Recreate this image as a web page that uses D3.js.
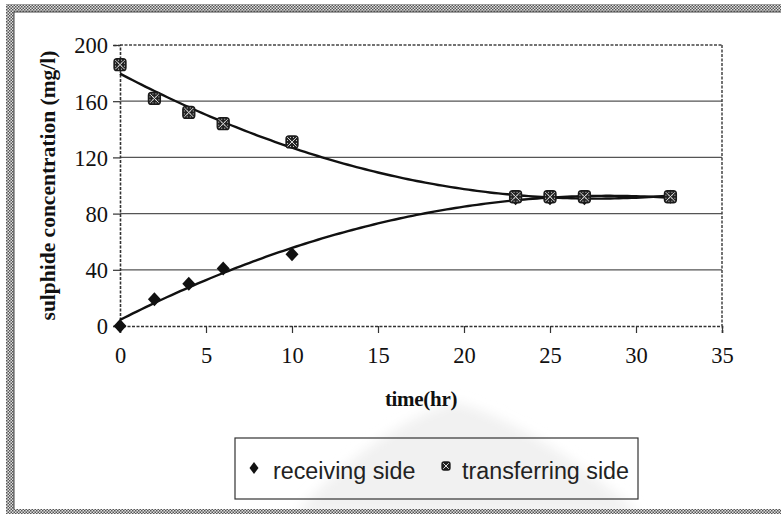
<!DOCTYPE html>
<html>
<head>
<meta charset="utf-8">
<script src="https://cdn.jsdelivr.net/npm/d3@7"></script>
<style>
  html, body { margin: 0; padding: 0; background: #fff; }
  svg { display: block; }
</style>
</head>
<body>
<svg id="chart" width="781" height="514"></svg>
<script>
// Sulphide concentration on both sides of the membrane over time
const timeHr = [0, 2, 4, 6, 10, 23, 25, 27, 32];
const receivingSide = [0, 19, 30, 41, 51, 91, 91, 91, 92];
const transferringSide = [186, 162, 152, 144, 131, 92, 92, 92, 92];
const xTicks = [0, 5, 10, 15, 20, 25, 30, 35];
const yTicks = [0, 40, 80, 120, 160, 200];
const seriesNames = ["receiving side", "transferring side"];

const svg = d3.select("#chart");

const x = d3.scaleLinear().domain([0, 35]).range([120, 722]);
const y = d3.scaleLinear().domain([0, 200]).range([326, 45]);

const defs = svg.append("defs");

// checkered frame texture
const pat = defs.append("pattern").attr("id", "checker")
  .attr("width", 3).attr("height", 3).attr("patternUnits", "userSpaceOnUse");
pat.append("rect").attr("width", 3).attr("height", 3).attr("fill", "#e0e0e0");
pat.append("rect").attr("width", 1.5).attr("height", 1.5).attr("fill", "#555");
pat.append("rect").attr("x", 1.5).attr("y", 1.5).attr("width", 1.5).attr("height", 1.5).attr("fill", "#555");

// dark speckled fill for the transferring-side marker
const mp = defs.append("pattern").attr("id", "speckle")
  .attr("width", 3).attr("height", 3).attr("patternUnits", "userSpaceOnUse");
mp.append("rect").attr("width", 3).attr("height", 3).attr("fill", "#222");
mp.append("rect").attr("x", 1).attr("y", 1).attr("width", 1).attr("height", 1).attr("fill", "#ccc");

const blur = defs.append("filter").attr("id", "soft").attr("x", "-20%").attr("y", "-20%").attr("width", "140%").attr("height", "140%");
blur.append("feGaussianBlur").attr("stdDeviation", 6);

// faint emblem in the lower background
svg.append("path")
  .attr("d", "M295,514 C335,470 395,420 455,402 C520,420 590,470 640,514 Z")
  .attr("fill", "#f1f1f1")
  .attr("filter", "url(#soft)");

// outer frame bands (left, top, bottom)
svg.append("rect").attr("x", 6).attr("y", 4).attr("width", 8).attr("height", 510).attr("fill", "url(#checker)");
svg.append("rect").attr("x", 6).attr("y", 4).attr("width", 775).attr("height", 8).attr("fill", "url(#checker)");
svg.append("rect").attr("x", 6).attr("y", 509).attr("width", 775).attr("height", 5).attr("fill", "url(#checker)");
svg.append("line").attr("x1", 14).attr("x2", 14).attr("y1", 12).attr("y2", 509).attr("stroke", "#444").attr("stroke-width", 1);
svg.append("line").attr("x1", 14).attr("x2", 781).attr("y1", 12).attr("y2", 12).attr("stroke", "#444").attr("stroke-width", 1);

// horizontal gridlines
const g = svg.append("g");
g.selectAll("line.grid").data(yTicks.filter(v => v > 0 && v < 200)).join("line")
  .attr("class", "grid")
  .attr("x1", x(0)).attr("x2", x(35))
  .attr("y1", d => y(d)).attr("y2", d => y(d))
  .attr("stroke", "#555").attr("stroke-width", 1.2);

// plot area outline (top and right) dashed
g.append("line").attr("x1", x(0)).attr("x2", x(35)).attr("y1", y(200)).attr("y2", y(200))
  .attr("stroke", "#444").attr("stroke-width", 1.5).attr("stroke-dasharray", "3,1.5");
g.append("line").attr("x1", x(35)).attr("x2", x(35)).attr("y1", y(200)).attr("y2", y(0))
  .attr("stroke", "#444").attr("stroke-width", 1.5).attr("stroke-dasharray", "3,1.5");

// axes
const xAxis = d3.axisBottom(x).tickValues(xTicks).tickSize(7).tickPadding(11).tickFormat(d3.format("d"));
const yAxis = d3.axisLeft(y).tickValues(yTicks).tickSize(7).tickPadding(5).tickFormat(d3.format("d"));

const gx = svg.append("g").attr("transform", `translate(0,${y(0)})`).call(xAxis);
const gy = svg.append("g").attr("transform", `translate(${x(0)},0)`).call(yAxis);
[gx, gy].forEach(ax => {
  ax.select(".domain").attr("stroke", "#333").attr("stroke-width", 1.6).attr("stroke-dasharray", "3,1.5");
  ax.selectAll(".tick line").attr("stroke", "#333").attr("stroke-width", 1.2);
  ax.selectAll(".tick text")
    .attr("font-family", "'Liberation Serif', 'Times New Roman', serif")
    .attr("font-size", 22.5).attr("fill", "#111");
});
gx.selectAll(".tick text").attr("dy", "0.85em");
gy.selectAll(".tick text").attr("dy", "0.35em");

// axis titles
svg.append("text")
  .attr("x", (x(0) + x(35)) / 2).attr("y", 406)
  .attr("text-anchor", "middle")
  .attr("font-family", "'Liberation Serif', 'Times New Roman', serif")
  .attr("font-weight", "bold").attr("font-size", 21).attr("fill", "#111")
  .attr("letter-spacing", "-0.3")
  .text("time(hr)");
svg.append("text")
  .attr("transform", `translate(55,${(y(0) + y(200)) / 2}) rotate(-90)`)
  .attr("text-anchor", "middle")
  .attr("font-family", "'Liberation Serif', 'Times New Roman', serif")
  .attr("font-weight", "bold").attr("font-size", 21.5).attr("fill", "#111")
  .text("sulphide concentration (mg/l)");

// least-squares polynomial trendline
function polyFit(xs, ys, deg) {
  const n = deg + 1;
  const A = Array.from({length: n}, () => new Array(n + 1).fill(0));
  for (let r = 0; r < n; r++) {
    for (let c = 0; c < n; c++) A[r][c] = d3.sum(xs, v => Math.pow(v, r + c));
    A[r][n] = d3.sum(xs, (v, i) => Math.pow(v, r) * ys[i]);
  }
  for (let i = 0; i < n; i++) {
    let p = i;
    for (let k = i + 1; k < n; k++) if (Math.abs(A[k][i]) > Math.abs(A[p][i])) p = k;
    [A[i], A[p]] = [A[p], A[i]];
    for (let k = 0; k < n; k++) {
      if (k === i) continue;
      const f = A[k][i] / A[i][i];
      for (let c = i; c <= n; c++) A[k][c] -= f * A[i][c];
    }
  }
  const coef = A.map((row, i) => row[n] / row[i]);
  return t => coef.reduce((s, c, i) => s + c * Math.pow(t, i), 0);
}

const tMax = d3.max(timeHr);
const samples = d3.range(0, tMax + 0.001, 0.25);
const line = d3.line().x(d => x(d[0])).y(d => y(d[1]));

[receivingSide, transferringSide].forEach(vals => {
  const f = polyFit(timeHr, vals, 2);
  svg.append("path")
    .datum(samples.map(t => [t, f(t)]))
    .attr("d", line)
    .attr("fill", "none").attr("stroke", "#111").attr("stroke-width", 2.4);
});

// markers
function diamond(sel, w, h) {
  sel.append("path").attr("d", `M0,${-h} L${w},0 L0,${h} L${-w},0 Z`).attr("fill", "#111");
}
function hatchBox(sel, s) {
  sel.append("rect").attr("x", -s).attr("y", -s).attr("width", 2 * s).attr("height", 2 * s)
    .attr("rx", s * 0.5).attr("fill", "url(#speckle)").attr("stroke", "#1a1a1a").attr("stroke-width", 1.3);
  sel.append("path").attr("d", `M${-s * 0.7},${-s * 0.7} L${s * 0.7},${s * 0.7} M${s * 0.7},${-s * 0.7} L${-s * 0.7},${s * 0.7}`)
    .attr("stroke", "#ddd").attr("stroke-width", 1);
}

timeHr.forEach((t, i) => {
  diamond(svg.append("g").attr("transform", `translate(${x(t)},${y(receivingSide[i])})`), 6.5, 7);
});
timeHr.forEach((t, i) => {
  hatchBox(svg.append("g").attr("transform", `translate(${x(t)},${y(transferringSide[i])})`), 6);
});

// legend
const lg = svg.append("g");
lg.append("rect").attr("x", 235).attr("y", 438).attr("width", 403).attr("height", 61)
  .attr("fill", "none").attr("stroke", "#333").attr("stroke-width", 1.2);
diamond(lg.append("g").attr("transform", "translate(254,468)"), 4.5, 6);
hatchBox(lg.append("g").attr("transform", "translate(446,466)"), 4);
lg.append("text").attr("x", 273).attr("y", 479)
  .attr("font-family", "'Liberation Sans', Arial, sans-serif").attr("font-size", 23.3).attr("fill", "#222")
  .text(seriesNames[0]);
lg.append("text").attr("x", 462).attr("y", 479)
  .attr("font-family", "'Liberation Sans', Arial, sans-serif").attr("font-size", 23.3).attr("fill", "#222")
  .text(seriesNames[1]);
</script>
</body>
</html>
